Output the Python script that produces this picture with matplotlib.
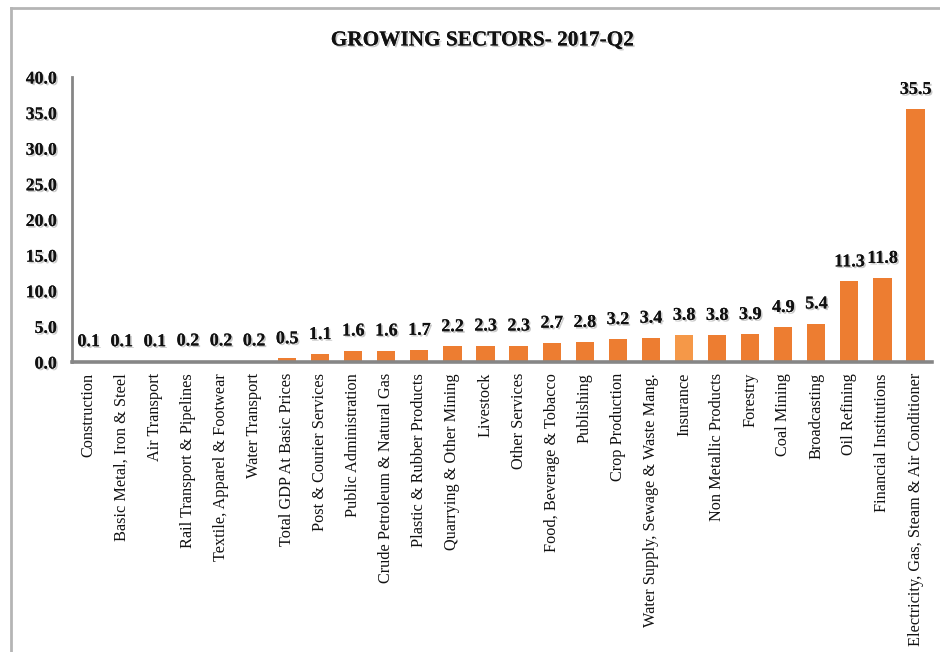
import matplotlib
matplotlib.use("Agg")
import matplotlib.pyplot as plt
import matplotlib.patheffects as pe
from matplotlib.lines import Line2D

sectors = [
    "Construction", "Basic Metal, Iron & Steel", "Air Transport",
    "Rail Transport & Pipelines", "Textile, Apparel & Footwear", "Water Transport",
    "Total GDP At Basic Prices", "Post & Courier Services", "Public Administration",
    "Crude Petroleum & Natural Gas", "Plastic & Rubber Products",
    "Quarrying & Other Mining", "Livestock", "Other Services",
    "Food, Beverage & Tobacco", "Publishing", "Crop Production",
    "Water Supply, Sewage & Waste Mang.", "Insurance", "Non Metallic Products",
    "Forestry", "Coal Mining", "Broadcasting", "Oil Refining",
    "Financial Institutions", "Electricity, Gas, Steam & Air Conditioner",
]
growth = [0.1, 0.1, 0.1, 0.2, 0.2, 0.2, 0.5, 1.1, 1.6, 1.6, 1.7, 2.2, 2.3, 2.3,
          2.7, 2.8, 3.2, 3.4, 3.8, 3.8, 3.9, 4.9, 5.4, 11.3, 11.8, 35.5]
y_ticks = [0, 5, 10, 15, 20, 25, 30, 35, 40]

BAR = "#ED7D31"
BAR_LIGHT = "#F59848"
AXIS = "#868686"
FONT = ["Liberation Serif", "DejaVu Serif"]

shadow = [pe.withSimplePatchShadow(offset=(1.2, -1.2), shadow_rgbFace="#888888", alpha=0.45),
          pe.Normal()]

fig = plt.figure(figsize=(9.4, 6.52), dpi=100)
ax = fig.add_axes([0.0766, 0.4448, 0.915, 0.4371])

colors = [BAR_LIGHT if s == "Insurance" else BAR for s in sectors]
x = list(range(len(sectors)))
bars = ax.bar(x, growth, width=0.55, color=colors, zorder=2)

ax.set_xlim(-0.5, len(sectors) - 0.5)
ax.set_ylim(0, 40)
ax.set_yticks(y_ticks)
ax.set_yticklabels([f"{v:.1f}" for v in y_ticks], fontfamily=FONT,
                   fontweight="bold", fontsize=12.8, color="#111111")
for t in ax.get_yticklabels():
    t.set_path_effects(shadow)
ax.tick_params(axis="y", length=0, pad=11)

ax.set_xticks(x)
ax.set_xticklabels(sectors, rotation=90, fontfamily=FONT, fontsize=11.7,
                   color="#111111", va="top", ha="center")
ax.tick_params(axis="x", length=0, pad=8)

for side in ("top", "right"):
    ax.spines[side].set_visible(False)
ax.spines["left"].set_color(AXIS)
ax.spines["left"].set_linewidth(2.0)
ax.spines["bottom"].set_color(AXIS)
ax.spines["bottom"].set_linewidth(2.6)
ax.spines["bottom"].set_zorder(3)

for rect, v in zip(bars, growth):
    ax.annotate(f"{v:.1f}", (rect.get_x() + rect.get_width() / 2, v),
                xytext=(0, 8), textcoords="offset points", ha="center", va="bottom",
                fontfamily=FONT, fontweight="bold", fontsize=13, color="#111111",
                path_effects=shadow)

fig.text(0.513, 0.938, "GROWING SECTORS- 2017-Q2", ha="center", va="center",
         fontfamily=FONT, fontweight="bold", fontsize=15.3, color="#111111",
         path_effects=shadow)

# outer frame edges
fig.add_artist(Line2D([10.5 / 940, 10.5 / 940], [0, 1 - 8 / 652],
                      transform=fig.transFigure, color="#B5B5B5", lw=2))
fig.add_artist(Line2D([10.5 / 940, 1], [1 - 8 / 652, 1 - 8 / 652],
                      transform=fig.transFigure, color="#B5B5B5", lw=2))

fig.savefig("out.png", dpi=100, facecolor="white")
